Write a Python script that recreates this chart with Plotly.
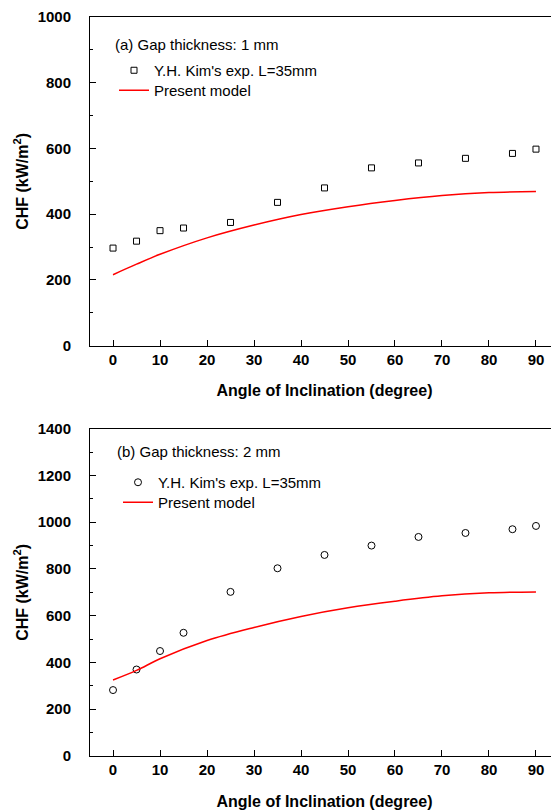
import plotly.graph_objects as go

# ---- data ----
angles_exp = [0, 5, 10, 15, 25, 35, 45, 55, 65, 75, 85, 90]
chf_exp_1mm = [297, 318, 350, 358, 375, 436, 480, 541, 556, 570, 585, 598]
chf_exp_2mm = [282, 370, 449, 527, 702, 803, 860, 900, 937, 954, 970, 984]

angles_model = [0, 5, 10, 20, 30, 40, 50, 60, 70, 80, 90]
chf_model_1mm = [216, 248, 278, 328, 367, 399, 423, 442, 457, 466, 469]
chf_model_2mm = [325, 366, 416, 494, 550, 597, 634, 662, 685, 698, 702]

x_ticks = [0, 10, 20, 30, 40, 50, 60, 70, 80, 90]

# figure is placed at (8, 8) in the page by the default body margin
W, H = 551, 802
ML, MR, MT, MB = 82, 0, 9, 54
PW, PH = W - ML - MR, H - MT - MB


def px(x):
    return (x - ML) / PW


def py(y):
    return 1 - (y - MT) / PH


FONT = "Liberation Sans, Arial, sans-serif"

fig = go.Figure()

fig.add_trace(go.Scatter(
    x=angles_exp, y=chf_exp_1mm, mode="markers", name="Y.H. Kim's exp. L=35mm",
    marker=dict(symbol="square-open", size=6, color="black", line=dict(width=1, color="black")),
    xaxis="x", yaxis="y", legend="legend"))
fig.add_trace(go.Scatter(
    x=angles_model, y=chf_model_1mm, mode="lines", name="Present model",
    line=dict(color="red", width=1.5, shape="spline"),
    xaxis="x", yaxis="y", legend="legend2"))
fig.add_trace(go.Scatter(
    x=angles_exp, y=chf_exp_2mm, mode="markers", name="Y.H. Kim's exp. L=35mm",
    marker=dict(symbol="circle-open", size=7, color="black", line=dict(width=1, color="black")),
    xaxis="x2", yaxis="y2", legend="legend3"))
fig.add_trace(go.Scatter(
    x=angles_model, y=chf_model_2mm, mode="lines", name="Present model",
    line=dict(color="red", width=1.5, shape="spline"),
    xaxis="x2", yaxis="y2", legend="legend4"))

tickfont = dict(family=FONT, size=15, color="black", weight="bold")
titlefont = dict(family=FONT, size=16, color="black", weight="bold")

xcommon = dict(
    range=[-4.9, 94.9], tickvals=x_ticks, ticks="inside", ticklen=6, tickwidth=1,
    tickcolor="black", showline=True, linecolor="black", linewidth=1, mirror=True,
    showgrid=False, zeroline=False, tickfont=tickfont,
    title=dict(text="Angle of Inclination (degree)", font=titlefont, standoff=18),
    automargin=False,
)
ycommon = dict(
    ticks="inside", ticklen=6, tickwidth=1, tickcolor="black", showline=True,
    linecolor="black", linewidth=1, mirror="ticks", showgrid=False, zeroline=False,
    tickfont=tickfont, ticklabelstandoff=15,
    minor=dict(ticks="inside", ticklen=3, dtick=100, tickcolor="black", showgrid=False),
    title=dict(text="CHF (kW/m<sup>2</sup>)", font=titlefont, standoff=5),
    automargin=False,
)

top_dom = [py(337.7), 1.0]
bot_dom = [0.0, py(420.7)]


def leg(x, y):
    return dict(x=px(x), y=py(y), xanchor="left", yanchor="top",
                font=dict(family=FONT, size=15, color="black"),
                bgcolor="rgba(0,0,0,0)", tracegroupgap=0, itemwidth=30)


fig.update_layout(
    width=W, height=H,
    margin=dict(l=ML, r=MR, t=MT, b=MB),
    paper_bgcolor="white", plot_bgcolor="white",
    xaxis=dict(**xcommon, domain=[0, 1], anchor="y"),
    yaxis=dict(**ycommon, domain=top_dom, anchor="x", range=[0, 1000], dtick=200),
    xaxis2=dict(**xcommon, domain=[0, 1], anchor="y2"),
    yaxis2=dict(**ycommon, domain=bot_dom, anchor="x2", range=[0, 1400], dtick=200),
    legend=leg(106, 46),
    legend2=leg(106, 66),
    legend3=leg(110, 458),
    legend4=leg(110, 478),
    showlegend=True,
    annotations=[
        dict(text="(a) Gap thickness: 1 mm", x=px(105), y=py(36), xref="paper", yref="paper",
             xanchor="left", yanchor="middle", showarrow=False,
             font=dict(family=FONT, size=15, color="black")),
        dict(text="(b) Gap thickness: 2 mm", x=px(107), y=py(443.7), xref="paper", yref="paper",
             xanchor="left", yanchor="middle", showarrow=False,
             font=dict(family=FONT, size=15, color="black")),
    ],
)

fig.write_html("out.html")
